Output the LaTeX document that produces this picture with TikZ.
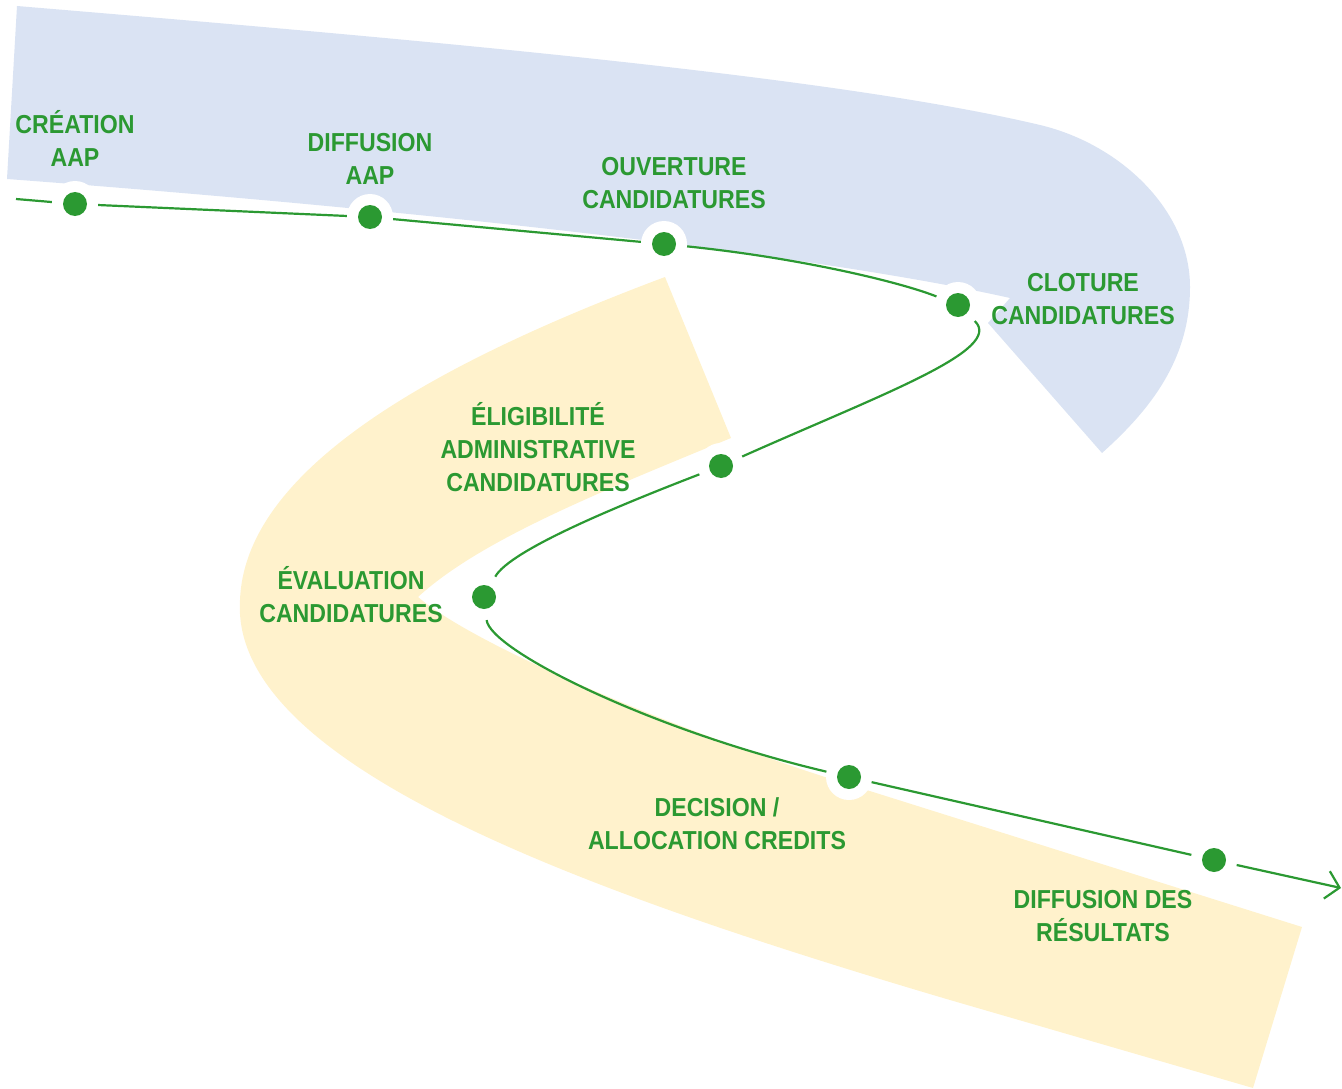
\documentclass[tikz,border=0pt]{standalone}
\usepackage{fontspec}
\newfontfamily\labelfont[FakeStretch=0.89]{Liberation Sans}
\usetikzlibrary{arrows.meta}
\definecolor{aapblue}{HTML}{DAE3F3}
\definecolor{aapyellow}{HTML}{FFF2CC}
\definecolor{aapgreen}{RGB}{43,153,50}
\tikzset{
  stop/.style={circle, fill=white, inner sep=0pt, minimum size=46pt,
    path picture={\fill[aapgreen] (path picture bounding box.center) circle (12pt);}},
  lbl/.style={text=aapgreen, align=center, inner sep=0pt,
    font=\labelfont\bfseries\fontsize{26}{33}\selectfont},
  link/.style={aapgreen, line width=2.2pt}
}

\begin{document}
\begin{tikzpicture}[x=1pt,y=-1pt]
\useasboundingbox (0,0) rectangle (1342,1089);
\fill[aapblue] (7,179) -- (17,6) .. controls (400,38) and (830,75) .. (1040,125)
  .. controls (1120,144) and (1190,210) .. (1190,287)
  .. controls (1190,360) and (1150,410) .. (1102,453) -- (988,323) -- (1010,298)
  .. controls (850,262) and (500,216) .. (7,179) -- cycle;
\fill[aapyellow] (665,277) -- (731,438) .. controls (600,492) and (480,540) .. (418,597)
  .. controls (480,650) and (700,740) .. (873,792) -- (1302,927) -- (1253,1088) -- (950,1000)
  .. controls (560,885) and (230,760) .. (240,600)
  .. controls (245,470) and (430,365) .. (665,277) -- cycle;

\node[stop] (creation) at (75,204) {};
\node[stop] (diffusion) at (370,217) {};
\node[stop] (ouverture) at (664,244) {};
\node[stop] (cloture) at (958,305) {};
\node[stop] (eligibilite) at (721,466) {};
\node[stop] (evaluation) at (484,597) {};
\node[stop] (decision) at (849,777) {};
\node[stop] (resultats) at (1214,860) {};
\coordinate (start) at (16,199);
\coordinate (finish) at (1341,888);

\draw[link] (start) -- (creation);
\draw[link] (creation) -- (diffusion);
\draw[link] (diffusion) -- (ouverture);
\draw[link] (ouverture) .. controls (800,258) and (900,282) .. (cloture);
\draw[link] (cloture) .. controls (1005,350) and (880,395) .. (eligibilite);
\draw[link] (eligibilite) .. controls (620,505) and (510,550) .. (evaluation);
\draw[link] (evaluation) .. controls (490,650) and (650,730) .. (decision);
\draw[link] (decision) -- (resultats);
\draw[link, -{Straight Barb[length=13pt,width=28pt]}] (resultats) -- (finish);

\node[lbl] (creationlbl) at (75,138) {CRÉATION\\AAP};
\node[lbl] (diffusionlbl) at (370,159) {DIFFUSION\\AAP};
\node[lbl] (ouverturelbl) at (674,183.5) {OUVERTURE\\CANDIDATURES};
\node[lbl] (cloturelbl) at (1083,299.5) {CLOTURE\\CANDIDATURES};
\node[lbl] (eligibilitelbl) at (538,447) {ÉLIGIBILITÉ\\ADMINISTRATIVE\\CANDIDATURES};
\node[lbl] (evaluationlbl) at (351,595) {ÉVALUATION\\CANDIDATURES};
\node[lbl] (decisionlbl) at (717,823.5) {DECISION /\\ALLOCATION CREDITS};
\node[lbl] (resultatslbl) at (1103,916.5) {DIFFUSION DES\\RÉSULTATS};
\end{tikzpicture}
\end{document}
